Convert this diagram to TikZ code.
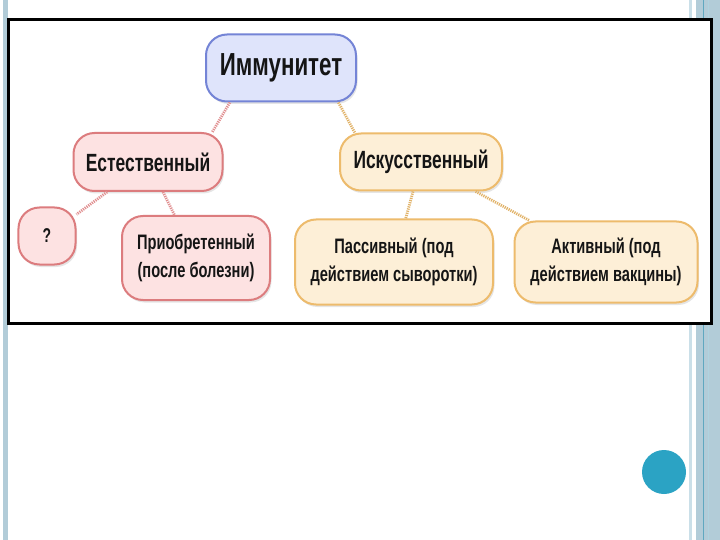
\documentclass[tikz,border=0pt]{standalone}
\usepackage{fontspec}
\setmainfont[FakeStretch=0.7]{Liberation Sans}
\usetikzlibrary{shadows}
\definecolor{barblue}{HTML}{B2CCD8}
\definecolor{barlight}{HTML}{CADFE8}
\definecolor{barline}{HTML}{5FA8C0}
\definecolor{dotteal}{HTML}{2BA3C4}
\definecolor{textdark}{HTML}{151515}
\definecolor{immfill}{HTML}{DFE4FB}
\definecolor{immline}{HTML}{7484D6}
\definecolor{natfill}{HTML}{FDE2E2}
\definecolor{natline}{HTML}{DC7C7E}
\definecolor{artfill}{HTML}{FDEFD7}
\definecolor{artline}{HTML}{EDBB6C}
\tikzset{%
  box/.style={draw, line width=2bp, rounded corners=21bp, align=center,
              font=\bfseries, text=textdark, inner sep=0pt,
              drop shadow={opacity=0.2, shadow xshift=1.5bp, shadow yshift=-2.5bp}},
  immbox/.style={box, draw=immline, fill=immfill},
  natbox/.style={box, draw=natline, fill=natfill},
  artbox/.style={box, draw=artline, fill=artfill},
  natlink/.style={draw=natline!85, line width=2.8bp, dash pattern=on 1.2bp off 1bp},
  artlink/.style={draw=artline!95!black, line width=2.8bp, dash pattern=on 1.2bp off 1bp},
}

\begin{document}
\begin{tikzpicture}[x=1bp,y=-1bp]
              % slide background
              \fill[white] (0,0) rectangle (720,540);
              \useasboundingbox (0,0) rectangle (720,540);
              \fill[barblue] (3,0) rectangle (8,540);
              \fill[barlight] (689,0) rectangle (692,540);
              \fill[barblue] (696,0) rectangle (720,540);
              \draw[barline, line width=1bp] (703,0) -- (703,540);
              \draw[barline!50, line width=1bp] (708,0) -- (708,540);
              \fill[dotteal] (664,472) circle (22);
              % picture frame
              \fill[white] (8,20) rectangle (711,323);
              \draw[line width=3bp] (8,20) rectangle (711,323);
              % nodes
              \node[immbox, minimum width=150bp, minimum height=67bp, font=\bfseries\fontsize{32}{34}\selectfont]
                (imm) at (281,68) {Иммунитет};
              \node[natbox, minimum width=149bp, minimum height=58bp, font=\bfseries\fontsize{25}{27}\selectfont]
                (nat) at (148,162) {Естественный};
              \node[artbox, minimum width=162bp, minimum height=57bp, font=\bfseries\fontsize{25}{27}\selectfont]
                (art) at (421,162) {Искусственный};
              \node[natbox, minimum width=57bp, minimum height=57bp, font=\bfseries\fontsize{20}{22}\selectfont]
                (unk) at (47,236) {?};
              \node[natbox, minimum width=148bp, minimum height=84bp, font=\bfseries\fontsize{21}{28}\selectfont]
                (acq) at (196,258) {Приобретенный\\(после болезни)};
              \node[artbox, minimum width=198bp, minimum height=85bp, font=\bfseries\fontsize{21}{28}\selectfont]
                (pas) at (394,262) {Пассивный (под\\действием сыворотки)};
              \node[artbox, minimum width=183bp, minimum height=81bp, font=\bfseries\fontsize{21}{28}\selectfont]
                (act) at (606,262) {Активный (под\\действием вакцины)};
              % links
              \draw[natlink] (imm.214) -- (nat.25);
              \draw[artlink] (imm.329) -- (art.156);
              \draw[natlink] (nat) -- (unk);
              \draw[natlink] (nat) -- (acq);
              \draw[artlink] (art) -- (pas);
              \draw[artlink] (art) -- (act);
          \end{tikzpicture}
\end{document}
